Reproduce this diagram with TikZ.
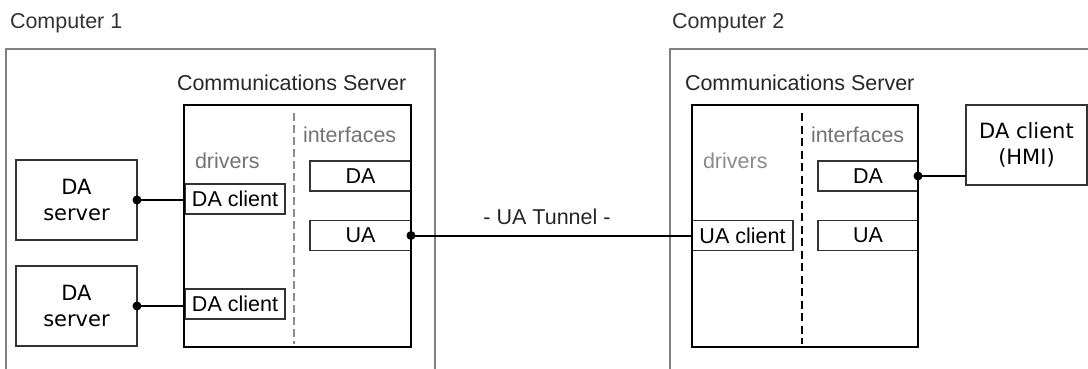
\documentclass[tikz,border=0pt]{standalone}
\usepackage{fontspec}
\setmainfont{Liberation Sans}
\newfontfamily\verd{DejaVu Sans}
\begin{document}
\begin{tikzpicture}[x=1pt,y=-1pt,
  every node/.style={inner sep=0pt, outer sep=0pt},
  fnt/.style={font=\fontsize{21.5}{26.5}\selectfont},
  vfnt/.style={font=\verd\fontsize{21}{26.5}\selectfont},
  lbl/.style={fnt, text height=15.4pt, text depth=0pt},
  outerbox/.style={draw=black!50, line width=1.5pt},
  csbox/.style={draw=black, line width=2.2pt},
  ibox/.style={draw=black!80, line width=1.6pt, fill=white, fnt, align=center},
  vbox/.style={draw=black!80, line width=1.6pt, fill=white, vfnt, align=center},
  wire/.style={draw=black, line width=2pt},
  dot/.style={fill=black},
]
\useasboundingbox (0,0) rectangle (1088,369);
\begin{scope}
\clip (0,0) rectangle (1088,369);
% computers
\node[outerbox, minimum width=429pt, minimum height=340pt, anchor=north west] (comp1) at (6,49) {};
\node[outerbox, minimum width=440pt, minimum height=340pt, anchor=north west] (comp2) at (670,49) {};
\node[lbl, anchor=west, text=black!80] (comp1l) at (10,20.5) {Computer 1};
\node[lbl, anchor=west, text=black!80] (comp2l) at (672,20.5) {Computer 2};

% server 1
\node[lbl, anchor=west, text=black!85] (cs1l) at (177,82.5) {Communications Server};
\node[vbox, minimum width=121pt, minimum height=80pt] (srv1) at (76.5,200) {DA\\server};
\node[vbox, minimum width=121pt, minimum height=80pt] (srv2) at (76.5,306) {DA\\server};
\node[ibox, minimum width=100pt, minimum height=30pt] (dcl1) at (235,199) {DA client};
\node[ibox, minimum width=100pt, minimum height=30pt] (dcl2) at (235,304) {DA client};
\node[ibox, minimum width=101pt, minimum height=30pt] (ida1) at (360.5,176) {DA};
\node[ibox, minimum width=101pt, minimum height=30pt] (iua1) at (360.5,235.5) {UA};
\node[csbox, minimum width=227pt, minimum height=242pt] (cs1) at (297.5,226) {};
\draw[draw=black!45, line width=2.4pt, dash pattern=on 8pt off 4pt] (294,113) -- (294,344);
\node[lbl, anchor=west, text=black!55] (if1) at (303,134.5) {interfaces};
\node[lbl, anchor=west, text=black!55] (dr1) at (195,160.5) {drivers};

% server 2
\node[lbl, anchor=west, text=black!85] (cs2l) at (685,82.5) {Communications Server};
\node[ibox, minimum width=101pt, minimum height=30pt] (ucl) at (742.5,235.5) {UA client};
\node[ibox, minimum width=100pt, minimum height=30pt] (ida2) at (868,176) {DA};
\node[ibox, minimum width=100pt, minimum height=30pt] (iua2) at (868,235.5) {UA};
\node[csbox, minimum width=226pt, minimum height=242pt] (cs2) at (805,226) {};
\draw[draw=black, line width=1.3pt, dash pattern=on 8pt off 4.5pt] (802,113) -- (802,344);
\node[lbl, anchor=west, text=black!55] (if2) at (811,134.5) {interfaces};
\node[lbl, anchor=west, text=black!45] (dr2) at (703,160.5) {drivers};
\node[vbox, minimum width=121pt, minimum height=80pt] (hmi) at (1026.5,145) {DA client\\(HMI)};

% connectors
\draw[wire] (srv1.east) -- (srv1.east -| dcl1.west);
\fill[dot] (srv1.east) circle (4.5pt);
\draw[wire] (srv2.east) -- (srv2.east -| dcl2.west);
\fill[dot] (srv2.east) circle (4.5pt);
\draw[wire] (iua1.east) -- (iua1.east -| ucl.west);
\fill[dot] (iua1.east) circle (4.5pt);
\draw[wire] (ida2.east) -- (ida2.east -| hmi.west);
\fill[dot] (ida2.east) circle (4.5pt);
\node[lbl, text=black!85] (tun) at (547,216.5) {- UA Tunnel -};
\end{scope}
\end{tikzpicture}
\end{document}
